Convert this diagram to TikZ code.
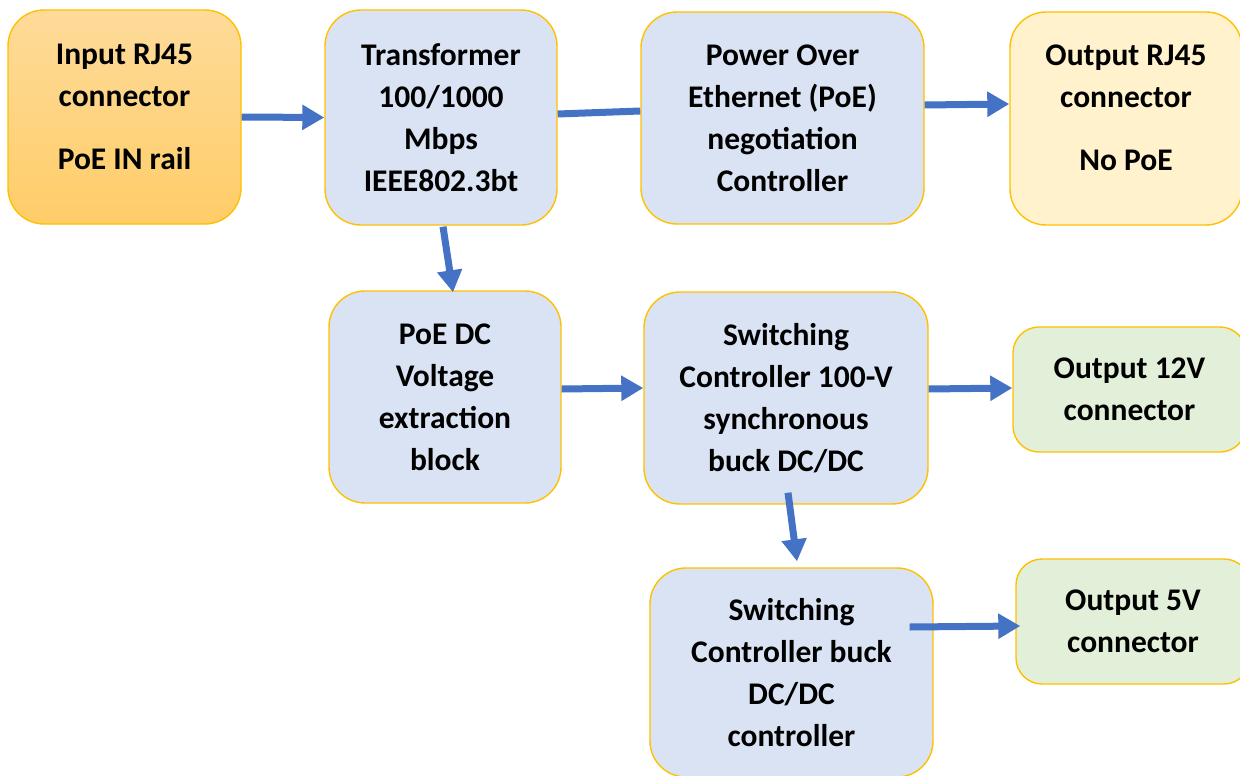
\documentclass[tikz,border=0pt]{standalone}
\usepackage{fontspec}
\setmainfont{Carlito}
\usetikzlibrary{arrows.meta}
\definecolor{boxblue}{HTML}{DAE3F3}
\definecolor{boxyellow}{HTML}{FFF2CC}
\definecolor{boxgreen}{HTML}{E2F0D9}
\definecolor{boxedge}{HTML}{FFC000}
\definecolor{flow}{HTML}{4472C4}
\definecolor{goldtop}{RGB}{254,219,154}
\definecolor{goldbot}{RGB}{255,205,104}
\tikzset{
  block/.style={draw=boxedge, line width=1.4pt, rounded corners=36pt,
    align=center, inner sep=0pt,
    font=\fontsize{31.5}{42}\selectfont\bfseries},
  bluebox/.style={block, fill=boxblue},
  smallbox/.style={block, rounded corners=26pt},
  flowline/.style={draw=flow, line width=7pt},
  flowarrow/.style={flowline, -{Triangle[width=24pt,length=22pt]}},
}
\begin{document}
\begin{tikzpicture}[x=1pt,y=-1pt]
\useasboundingbox (0,0) rectangle (1240,776);

% top row
\node[block, top color=goldtop, bottom color=goldbot,
      minimum width=233pt, minimum height=214pt] (inrj) at (124.5,117)
  {Input RJ45\\connector\\[21pt]PoE IN rail\\[-21pt]\mbox{}};
\node[bluebox, minimum width=232pt, minimum height=215pt] (xfmr) at (441,117.5)
  {Transformer\\100/1000\\Mbps\\IEEE802.3bt};
\node[bluebox, minimum width=283pt, minimum height=212pt] (nego) at (782.5,118)
  {Power Over\\Ethernet (PoE)\\negotiation\\Controller};
\node[block, fill=boxyellow, minimum width=232pt, minimum height=213pt] (outrj) at (1126,118.5)
  {Output RJ45\\connector\\[21pt]No PoE\\[-21pt]\mbox{}};

% middle row
\node[bluebox, minimum width=232pt, minimum height=212pt] (dcex) at (445,397)
  {PoE DC\\Voltage\\extraction\\block};
\node[bluebox, minimum width=284pt, minimum height=212pt] (sync) at (786,398)
  {Switching\\Controller 100-V\\synchronous\\buck DC/DC};
\node[smallbox, fill=boxgreen, minimum width=233pt, minimum height=125pt] (out12) at (1129.5,389.5)
  {Output 12V\\connector};

% bottom row
\node[bluebox, minimum width=283pt, minimum height=209pt] (buck) at (791.5,672.5)
  {Switching\\Controller buck\\DC/DC\\controller};
\node[smallbox, fill=boxgreen, minimum width=234pt, minimum height=125pt] (out5) at (1133,621.5)
  {Output 5V\\connector};

% connectors
\draw[flowarrow] (inrj.east) -- (xfmr.west);
\draw[flowline] ([yshift=3.5pt]xfmr.east) -- ([yshift=7pt]nego.west);
\draw[flowarrow] ([yshift=13pt]nego.east) -- ([yshift=14.5pt]outrj.west);
\draw[flowarrow] ([xshift=2pt,yshift=-1pt]xfmr.south) -- ([xshift=8pt,yshift=-2pt]dcex.north);
\draw[flowarrow] ([yshift=8pt]dcex.east) -- ([yshift=10pt]sync.west);
\draw[flowarrow] ([yshift=9pt]sync.east) -- ([yshift=1.5pt]out12.west);
\draw[flowarrow] ([xshift=2pt,yshift=12pt]sync.south) -- ([xshift=5.5pt,yshift=6pt]buck.north);
\draw[flowarrow] ([xshift=-24pt,yshift=45.5pt]buck.east) -- ([xshift=5pt,yshift=-4.5pt]out5.west);
\end{tikzpicture}
\end{document}
